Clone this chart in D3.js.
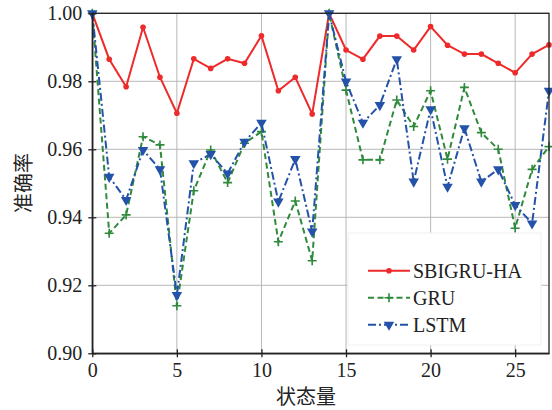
<!DOCTYPE html>
<html>
<head>
<meta charset="utf-8">
<script src="https://cdn.jsdelivr.net/npm/d3@7"></script>
<style>
  body { margin: 0; background: #fff; }
  svg { display: block; }
  .axis text { font-family: "Liberation Serif", "DejaVu Serif", serif; font-size: 20px; fill: #222; }
  .axis path, .axis line { stroke: #222; stroke-width: 1.3; }
  .grid line { stroke: #b8b8b8; stroke-width: 1; }
  .label { font-family: "Noto Sans CJK SC", sans-serif; font-size: 20px; fill: #222; }
  .legend text { font-family: "Liberation Serif", "DejaVu Serif", serif; font-size: 20px; fill: #222; }
</style>
</head>
<body>
<svg id="chart" width="552" height="410"></svg>
<script>
// state index 0..27
var states = d3.range(0, 28);

var sbigru = [1.000, 0.9865, 0.9784, 0.9959, 0.9812, 0.9706, 0.9866, 0.9838, 0.9866, 0.9853,
              0.9934, 0.9772, 0.9812, 0.9704, 1.000, 0.9892, 0.9865, 0.9933, 0.9933, 0.9892,
              0.9961, 0.9906, 0.9880, 0.9880, 0.9853, 0.9825, 0.9880, 0.9907];
var gru = [1.000, 0.9353, 0.9407, 0.9637, 0.9613, 0.9140, 0.9478, 0.9598, 0.9502, 0.9618,
           0.9652, 0.9328, 0.9448, 0.9272, 1.000, 0.9774, 0.9569, 0.9569, 0.9745, 0.9667,
           0.9772, 0.9571, 0.9782, 0.9649, 0.9600, 0.9368, 0.9541, 0.9608];
var lstm = [1.000, 0.9519, 0.9451, 0.9598, 0.9541, 0.9171, 0.9559, 0.9586, 0.9529, 0.9622,
            0.9678, 0.9446, 0.9571, 0.9358, 1.000, 0.9799, 0.9678, 0.9730, 0.9865, 0.9505,
            0.9718, 0.9490, 0.9662, 0.9505, 0.9541, 0.9436, 0.9382, 0.9772];

var xTicks = [0, 5, 10, 15, 20, 25];
var yTicks = [0.90, 0.92, 0.94, 0.96, 0.98, 1.00];
var seriesNames = ["SBIGRU-HA", "GRU", "LSTM"];

var margin = { top: 13.3, right: 3, bottom: 56.7, left: 92.3 };
var width = 552 - margin.left - margin.right;
var height = 410 - margin.top - margin.bottom;

var svg = d3.select("#chart");
var plot = svg.append("g").attr("transform", "translate(" + margin.left + "," + margin.top + ")");

var x = d3.scaleLinear().domain([0, 27]).range([0, width]);
var y = d3.scaleLinear().domain([0.90, 1.00]).range([height, 0]);

// grid
var grid = plot.append("g").attr("class", "grid");
grid.selectAll("line.gx").data(xTicks).enter().append("line")
  .attr("x1", function(d) { return x(d); }).attr("x2", function(d) { return x(d); })
  .attr("y1", 0).attr("y2", height);
grid.selectAll("line.gy").data(yTicks).enter().append("line")
  .attr("y1", function(d) { return y(d); }).attr("y2", function(d) { return y(d); })
  .attr("x1", 0).attr("x2", width);

var series = [
  { name: seriesNames[0], values: sbigru, color: "#ee2a2a", dash: null, marker: "circle" },
  { name: seriesNames[1], values: gru, color: "#2f8a3c", dash: "6,3.5", marker: "plus" },
  { name: seriesNames[2], values: lstm, color: "#2352a8", dash: "8,3,2,3", marker: "tri" }
];

var line = d3.line()
  .x(function(d, i) { return x(states[i]); })
  .y(function(d) { return y(d); });

var triPath = d3.symbol(d3.symbolTriangle, 48)();
var plusPath = "M-4.5,0H4.5M0,-4.5V4.5";

function drawMarker(g, s) {
  if (s.marker === "circle") {
    g.append("circle").attr("r", 2.8).attr("fill", s.color);
  } else if (s.marker === "plus") {
    g.append("path").attr("d", plusPath).attr("stroke", s.color).attr("stroke-width", 1.6).attr("fill", "none");
  } else {
    g.append("path").attr("d", triPath).attr("transform", "rotate(180)").attr("fill", s.color);
  }
}

series.forEach(function(s) {
  plot.append("path")
    .datum(s.values)
    .attr("fill", "none")
    .attr("stroke", s.color)
    .attr("stroke-width", 2)
    .attr("stroke-dasharray", s.dash)
    .attr("d", line);

  plot.selectAll(null).data(s.values).enter().append("g")
    .attr("transform", function(d, i) { return "translate(" + x(states[i]) + "," + y(d) + ")"; })
    .each(function() { drawMarker(d3.select(this), s); });
});

// axes
var gx = plot.append("g").attr("class", "axis")
  .attr("transform", "translate(0," + height + ")")
  .call(d3.axisBottom(x).tickValues(xTicks).tickSizeInner(4).tickSizeOuter(0).tickPadding(6));
gx.selectAll(".tick line").attr("y1", -4);

var gy = plot.append("g").attr("class", "axis")
  .call(d3.axisLeft(y).tickValues(yTicks).tickFormat(d3.format(".2f")).tickSizeInner(4).tickSizeOuter(0).tickPadding(6));
gy.selectAll(".tick line").attr("x1", 4);

// frame
plot.append("rect").attr("width", width).attr("height", height)
  .attr("fill", "none").attr("stroke", "#222").attr("stroke-width", 1.3);

// axis labels
svg.append("text").attr("class", "label")
  .attr("x", 306).attr("y", 404).attr("text-anchor", "middle").text("状态量");
svg.append("text").attr("class", "label")
  .attr("transform", "translate(31,183) rotate(-90)")
  .attr("text-anchor", "middle").text("准确率");

// legend
var legend = svg.append("g").attr("class", "legend");
legend.append("rect")
  .attr("x", 348).attr("y", 233).attr("width", 193).attr("height", 112)
  .attr("fill", "#fff").attr("stroke", "#f0f0f0").attr("stroke-width", 1);

var rows = legend.selectAll("g.row").data(series).enter().append("g")
  .attr("transform", function(d, i) { return "translate(368," + (270.7 + i * 27) + ")"; });
rows.append("line").attr("x1", 0).attr("x2", 42)
  .attr("stroke", function(d) { return d.color; })
  .attr("stroke-width", 2)
  .attr("stroke-dasharray", function(d) { return d.dash; });
rows.append("g").attr("transform", "translate(21,0)")
  .each(function(d) { drawMarker(d3.select(this), d); });
rows.append("text").attr("x", 45).attr("y", 7).text(function(d) { return d.name; });
</script>
</body>
</html>
